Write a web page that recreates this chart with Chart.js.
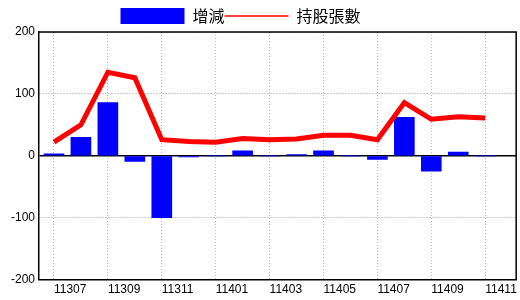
<!DOCTYPE html>
<html>
<head>
<meta charset="utf-8">
<script src="https://cdn.jsdelivr.net/npm/chart.js@4"></script>
<style>
  html, body { margin: 0; padding: 0; background: #fff; }
  #wrap { width: 520px; height: 300px; }
</style>
</head>
<body>
<div id="wrap"><canvas id="chipChart"></canvas></div>
<script>
const months = ['11307', '11308', '11309', '11310', '11311', '11312', '11401', '11402', '11403',
                '11404', '11405', '11406', '11407', '11408', '11409', '11410', '11411'];
const changeValues = [3, 30, 86, -9, -100, -2, 0, 8, 0, 2, 8, 0, -6, 62, -25, 6, 0];
const holdingValues = [22, 50, 135, 126, 26, 23, 22, 28, 26, 27, 33, 33, 26, 86, 59, 63, 61];
const yTicks = [-200, -100, 0, 100, 200];

const tickFont = { family: "'Liberation Sans Narrow', 'Liberation Sans', Arial, sans-serif", size: 12 };

// top + right frame lines around the plot, and legend nudge
const frameBox = {
    id: 'frameBox',
    afterLayout(chart) {
        chart.legend.left -= 18;
        chart.legend.right -= 18;
        chart.legend.top += 2;
        chart.legend.bottom += 2;
    },
    afterDatasetsDraw(chart) {
        const a = chart.chartArea;
        const ctx = chart.ctx;
        ctx.save();
        ctx.strokeStyle = '#000';
        ctx.lineWidth = 1.5;
        ctx.beginPath();
        ctx.moveTo(a.left, a.top);
        ctx.lineTo(a.right, a.top);
        ctx.lineTo(a.right, a.bottom);
        ctx.stroke();
        ctx.restore();
    }
};

new Chart(document.getElementById('chipChart'), {
    data: {
        datasets: [
            {
                type: 'line',
                label: '持股張數',
                data: holdingValues.map((v, i) => ({ x: i, y: v })),
                borderColor: '#ff0000',
                backgroundColor: '#ff0000',
                borderWidth: 5,
                pointRadius: 0,
                pointStyle: 'line',
                tension: 0,
                order: 1
            },
            {
                type: 'bar',
                label: '增減',
                data: changeValues.map((v, i) => ({ x: i, y: v })),
                backgroundColor: '#0000ff',
                borderWidth: 0,
                pointStyle: 'rect',
                barThickness: 20,
                order: 2
            }
        ]
    },
    options: {
        responsive: true,
        maintainAspectRatio: false,
        animation: false,
        layout: { padding: { top: 6, right: 3, bottom: 0, left: 0 } },
        scales: {
            x: {
                type: 'linear',
                offset: false,
                min: -15 / 27,
                max: 16 + 31 / 27,
                afterBuildTicks: (scale) => {
                    scale.ticks = months.map((m, i) => ({ value: i })).filter(t => t.value % 2 === 0);
                },
                grid: {
                    offset: false,
                    color: '#9bbccc',
                    lineWidth: 1,
                    drawTicks: false
                },
                border: { color: '#000', width: 1.5, dash: [1, 2] },
                ticks: {
                    align: 'start',
                    padding: 3,
                    maxRotation: 0,
                    autoSkip: false,
                    color: '#000',
                    font: tickFont,
                    callback: (value) => months[value] || ''
                }
            },
            y: {
                min: -200,
                max: 200,
                afterFit: (scale) => { scale.width = 39; },
                afterBuildTicks: (scale) => { scale.ticks = yTicks.map(v => ({ value: v })); },
                grid: {
                    color: (c) => (c.tick && c.tick.value === 0) ? '#000' : '#999',
                    lineWidth: (c) => (c.tick && c.tick.value === 0) ? 1.5 : 1,
                    drawTicks: false
                },
                border: {
                    color: '#000',
                    width: 1.5,
                    dash: (c) => (c.tick && c.tick.value === 0) ? [] : [1, 2]
                },
                ticks: {
                    padding: 4,
                    color: '#000',
                    font: tickFont
                }
            }
        },
        plugins: {
            legend: {
                position: 'top',
                reverse: true,
                labels: {
                    usePointStyle: true,
                    pointStyleWidth: 64,
                    boxHeight: 16,
                    padding: 0,
                    color: '#000',
                    font: { family: "'Noto Sans CJK TC', 'Noto Sans CJK SC', sans-serif", size: 16 },
                    generateLabels: (chart) => {
                        const items = Chart.defaults.plugins.legend.labels.generateLabels(chart);
                        items.forEach(it => {
                            if (it.pointStyle === 'line') it.lineWidth = 1.5;
                        });
                        return items;
                    }
                }
            },
            tooltip: { enabled: false }
        }
    },
    plugins: [frameBox]
});
</script>
</body>
</html>
